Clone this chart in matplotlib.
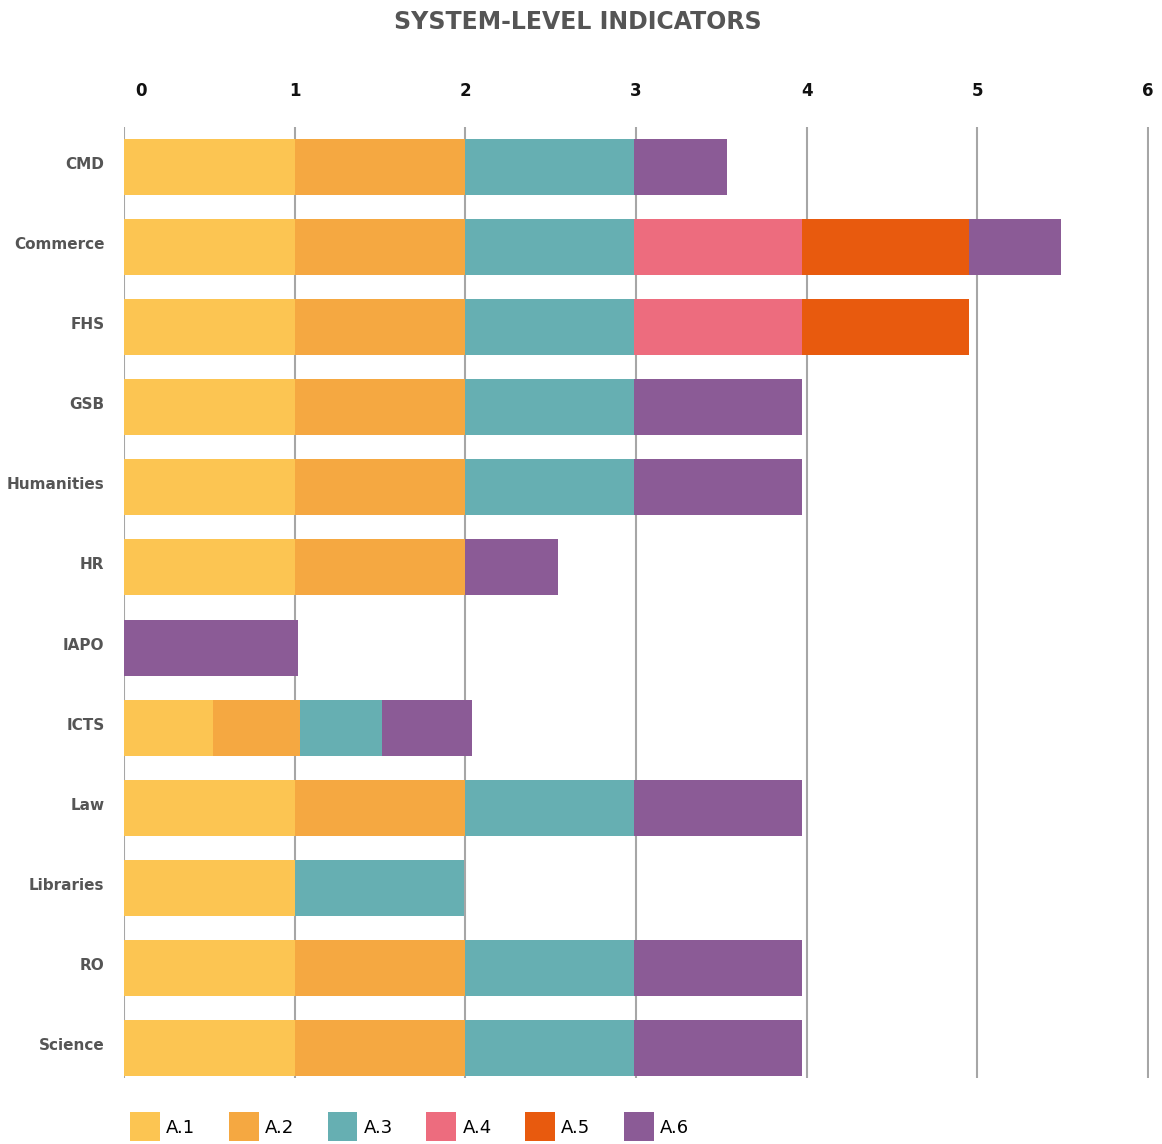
import matplotlib
matplotlib.use("Agg")
import matplotlib.pyplot as plt
import matplotlib.transforms as mtransforms
from matplotlib.patches import Patch

# Data
units = ["CMD", "Commerce", "FHS", "GSB", "Humanities", "HR",
         "IAPO", "ICTS", "Law", "Libraries", "RO", "Science"]
series_names = ["A.1", "A.2", "A.3", "A.4", "A.5", "A.6"]
a1 = [1, 1, 1, 1, 1, 1, 0, 0.52, 1, 1, 1, 1]
a2 = [1, 1, 1, 1, 1, 1, 0, 0.51, 1, 0, 1, 1]
a3 = [0.99, 0.99, 0.99, 0.99, 0.99, 0, 0, 0.48, 0.99, 0.99, 0.99, 0.99]
a4 = [0, 0.98, 0.98, 0, 0, 0, 0, 0, 0, 0, 0, 0]
a5 = [0, 0.98, 0.98, 0, 0, 0, 0, 0, 0, 0, 0, 0]
a6 = [0.54, 0.54, 0, 0.98, 0.98, 0.54, 1.02, 0.53, 0.98, 0, 0.98, 0.98]
x_ticks = [0, 1, 2, 3, 4, 5, 6]

colors = ["#FCC552", "#F5A841", "#66AFB2", "#ED6C7E", "#E85A0E", "#8B5B96"]

fig = plt.figure(figsize=(11.62, 11.44), dpi=100)
ax = fig.add_axes([0.1067, 0.0577, 0.8821, 0.8313])

ypos = list(range(len(units)))
left = [0.0] * len(units)
for vals, col in zip([a1, a2, a3, a4, a5, a6], colors):
    ax.barh(ypos, vals, left=left, height=0.7, color=col, zorder=2)
    left = [l + v for l, v in zip(left, vals)]

ax.set_xlim(0, 6.005)
ax.set_ylim(11.375, -0.5)
ax.set_xticks(x_ticks)
ax.set_xticklabels([])
ax.tick_params(axis="x", length=0)
ax.grid(axis="x", color="#A6A6A6", linewidth=1.5, zorder=0)
ax.set_axisbelow(True)
for s in ax.spines.values():
    s.set_visible(False)

ax.set_yticks(ypos)
ax.set_yticklabels(units, fontsize=11, fontweight="bold", color="#555555")
ax.tick_params(axis="y", length=0, pad=14)
for lbl in ax.get_yticklabels():
    lbl.set_transform(lbl.get_transform() + mtransforms.ScaledTranslation(0, 4 / 100, fig.dpi_scale_trans))

# top tick labels
trans = mtransforms.blended_transform_factory(ax.transData, ax.transAxes)
for v in x_ticks:
    xp = v + 0.1 if v == 0 else v
    ax.text(xp, 1.038, str(v), transform=trans, ha="center", va="center",
            fontsize=12, fontweight="bold", color="#111111")

fig.text(0.497, 0.981, "SYSTEM-LEVEL INDICATORS", ha="center", va="center",
         fontsize=17, fontweight="bold", color="#555555")

handles = [Patch(facecolor=c, edgecolor="none", label=n) for c, n in zip(colors, series_names)]
fig.legend(handles=handles, loc="lower left", bbox_to_anchor=(0.098, -0.012), ncol=6,
           frameon=False, fontsize=13, handlelength=1.65, handleheight=2.1,
           handletextpad=0.35, columnspacing=1.85)

fig.savefig("out.png", dpi=100)
